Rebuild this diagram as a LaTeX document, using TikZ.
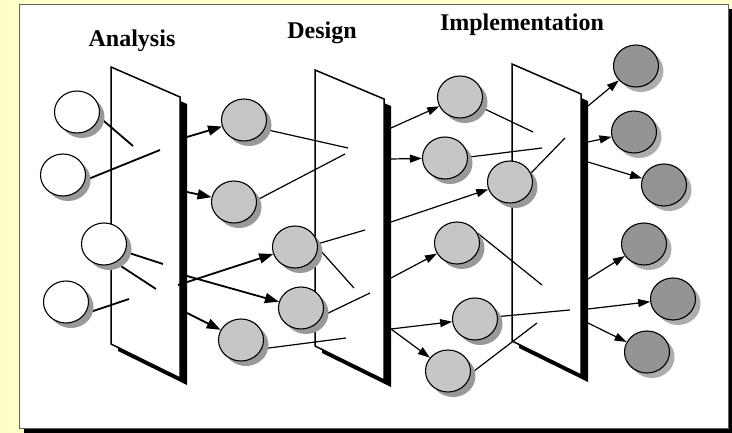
\documentclass[tikz,border=0pt]{standalone}
\usepackage{fontspec}
\setmainfont{Liberation Serif}
\usetikzlibrary{arrows.meta,shapes.geometric,shadows}
\pgfdeclarelayer{back}
\pgfdeclarelayer{mid}
\pgfsetlayers{back,mid,main}
\definecolor{bgyellow}{HTML}{FFFFCC}
\definecolor{lightfill}{HTML}{C6C6C6}
\definecolor{darkfill}{HTML}{949494}
\definecolor{shadegray}{HTML}{999999}
\definecolor{shadelight}{HTML}{ADADAD}
\definecolor{framegray}{HTML}{606060}
\tikzset{
  blob/.style={ellipse, minimum width=45pt, minimum height=42pt, inner sep=0pt, draw=black, line width=1.1pt},
  whiteblob/.style={blob, fill=white, drop shadow={shadow xshift=5pt, shadow yshift=-5pt, fill=shadegray, opacity=1}},
  lightblob/.style={blob, fill=lightfill, drop shadow={shadow xshift=5pt, shadow yshift=-5pt, fill=shadegray, opacity=1}},
  darkblob/.style={blob, fill=darkfill, drop shadow={shadow xshift=5pt, shadow yshift=-5pt, fill=shadelight, opacity=1}},
  stagelabel/.style={font=\bfseries\fontsize{24}{28}\selectfont, anchor=base, inner sep=0pt},
  gateshadow/.style={fill=black},
  gateface/.style={fill=white, draw=black, line width=1.5pt, line join=miter},
  linethick/.style={line width=1.8pt},
  linethin/.style={line width=1.2pt},
  arrthick/.style={line width=1.8pt, -{Triangle[length=14pt,width=10pt]}},
  arrthin/.style={line width=1.2pt, -{Triangle[length=12pt,width=8pt]}}
}
\begin{document}
\begin{tikzpicture}[x=1pt,y=-1pt]
\useasboundingbox (0,0) rectangle (732,433);
\begin{pgfonlayer}{back}
  \fill[bgyellow] (0,0) rectangle (732,433);
  \fill[black] (24,9) rectangle (732,433);
  \filldraw[fill=white, draw=framegray, line width=1.5pt] (19.5,4.5) rectangle (728.5,428.5);
  % gate 1
  \fill[gateshadow] (118,74) -- (187,104) -- (187,385) -- (118,351) -- cycle;
  \filldraw[gateface] (111,67) -- (180,97) -- (180,378) -- (111,344) -- cycle;
  % gate 2
  \fill[gateshadow] (322,77) -- (391,106) -- (391,387) -- (322,353) -- cycle;
  \filldraw[gateface] (315,70) -- (384,99) -- (384,380) -- (315,346) -- cycle;
  % gate 3
  \fill[gateshadow] (519,71) -- (588,101) -- (588,382) -- (519,348) -- cycle;
  \filldraw[gateface] (512,64) -- (581,94) -- (581,375) -- (512,341) -- cycle;
\end{pgfonlayer}

\node[stagelabel] (lblA) at (132,47) {Analysis};
\node[stagelabel] (lblD) at (322,39) {Design};
\node[stagelabel] (lblI) at (522,31) {Implementation};

% analysis inputs
\node[whiteblob] (A1) at (77,112) {};
\node[whiteblob] (A2) at (63,175) {};
\node[whiteblob] (A3) at (104,244) {};
\node[whiteblob] (A4) at (66,302) {};
% design
\node[lightblob] (B1) at (244,120) {};
\node[lightblob] (B2) at (234,202) {};
\node[lightblob] (B3) at (295,247) {};
\node[lightblob] (B4) at (301,308) {};
\node[lightblob] (B5) at (241,340) {};
% implementation
\node[lightblob] (C1) at (460,97) {};
\node[lightblob] (C2) at (445,158) {};
\node[lightblob] (C3) at (510,182) {};
\node[lightblob] (C4) at (457,243) {};
\node[lightblob] (C5) at (475,319) {};
\node[lightblob] (C6) at (448,371) {};
% outputs
\node[darkblob] (D1) at (636,66) {};
\node[darkblob] (D2) at (634,132) {};
\node[darkblob] (D3) at (664,185) {};
\node[darkblob] (D4) at (644,244) {};
\node[darkblob] (D5) at (673,299) {};
\node[darkblob] (D6) at (647,352) {};

% free ends inside gates
\coordinate (a1e) at (133,146);
\coordinate (a2e) at (160,150);
\coordinate (a3e1) at (163,264);
\coordinate (a3e2) at (156,289);
\coordinate (a4e) at (129,299);
\coordinate (b1e) at (348,148);
\coordinate (b2e) at (345,154);
\coordinate (b3e1) at (365,230);
\coordinate (b3e2) at (354,288);
\coordinate (b4e) at (370,293);
\coordinate (b5e) at (346,338);
\coordinate (c1e) at (533,132);
\coordinate (c2e) at (542,148);
\coordinate (c3e) at (565,138);
\coordinate (c4e) at (542,285);
\coordinate (c5e) at (570,310);
\coordinate (c6e) at (537,323);
% exits from gates
\coordinate (g1a) at (187,137);
\coordinate (g1b) at (187,192);
\coordinate (g1c) at (178,285);
\coordinate (g1d) at (187,276);
\coordinate (g1e) at (187,313);
\coordinate (g2a) at (391,128);
\coordinate (g2b) at (391,159);
\coordinate (g2c) at (391,222);
\coordinate (g2d) at (391,278);
\coordinate (g2e) at (391,329);
\coordinate (g3a) at (588,106);
\coordinate (g3b) at (588,142);
\coordinate (g3c) at (588,162);
\coordinate (g3d) at (588,279);
\coordinate (g3e) at (588,309);
\coordinate (g3f) at (588,323);

\begin{pgfonlayer}{mid}
  \draw[linethick] (A1.-13) -- (a1e);
  \draw[linethick] (A2.-13) -- (a2e);
  \draw[linethick] (A3.-20) -- (a3e1);
  \draw[linethick] (A3.-58) -- (a3e2);
  \draw[linethick] (A4.-31) -- (a4e);
  \draw[arrthick] (g1a) -- (B1);
  \draw[arrthick] (g1b) -- (B2);
  \draw[arrthick] (g1c) -- (B3);
  \draw[arrthick] (g1d) -- (B4);
  \draw[arrthick] (g1e) -- (B5);
  \draw[linethin] (B1.-24) -- (b1e);
  \draw[linethin] (B2.5) -- (b2e);
  \draw[linethin] (B3.8) -- (b3e1);
  \draw[linethin] (B3.-2) -- (b3e2);
  \draw[linethin] (B4.-20) -- (b4e);
  \draw[linethin] (B5.-23) -- (b5e);
  \draw[arrthin] (g2a) -- (C1);
  \draw[arrthin] (g2b) -- (C2);
  \draw[arrthin] (g2c) -- (C3);
  \draw[arrthin] (g2d) -- (C4);
  \draw[arrthin] (g2e) -- (C5);
  \draw[arrthin] (g2e) -- (C6);
  \draw[linethin] (C1.-26) -- (c1e);
  \draw[linethin] (C2.2) -- (c2e);
  \draw[linethin] (C3.23) -- (c3e);
  \draw[linethin] (C4.26) -- (c4e);
  \draw[linethin] (C5.6) -- (c5e);
  \draw[linethin] (C6.-6) -- (c6e);
  \draw[arrthin] (g3a) -- (D1);
  \draw[arrthin] (g3b) -- (D2);
  \draw[arrthin] (g3c) -- (D3);
  \draw[arrthin] (g3d) -- (D4);
  \draw[arrthin] (g3e) -- (D5);
  \draw[arrthin] (g3f) -- (D6);
\end{pgfonlayer}
\end{tikzpicture}
\end{document}
